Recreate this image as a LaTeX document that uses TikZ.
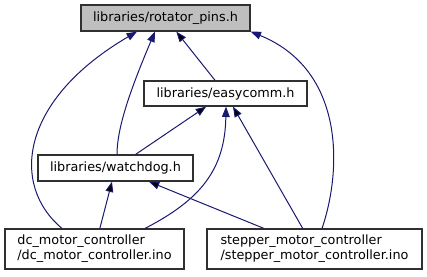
\documentclass[tikz,border=0pt]{standalone}
\usepackage{fontspec}
\setmainfont{DejaVu Sans}
\usepackage{tikz}
\usetikzlibrary{arrows.meta}
\definecolor{edgeblue}{RGB}{25,25,112}
\definecolor{boxline}{RGB}{48,48,48}
\definecolor{boxgray}{RGB}{191,191,191}
\tikzstyle{file}=[rectangle, draw=boxline, line width=0.9pt, inner sep=0pt, font=\fontsize{9.6}{11.25}\selectfont]
\tikzstyle{dep}=[-{Triangle[length=7.8pt,width=5.8pt]}, draw=edgeblue, line width=0.75pt]

\begin{document}
\begin{tikzpicture}[x=0.75pt, y=-0.75pt]
			\useasboundingbox (0,0) rectangle (427,276);

			\node[file, fill=boxgray, minimum width=126.75pt, minimum height=19.5pt] (pins) at (165.5,18) {libraries/rotator\_pins.h};
			\node[file, minimum width=122.25pt, minimum height=18.75pt] (easy) at (225.5,93.5) {libraries/easycomm.h};
			\node[file, minimum width=116.25pt, minimum height=19.5pt] (wdog) at (115.5,168) {libraries/watchdog.h};
			\node[file, align=left, minimum width=134.25pt, minimum height=30pt] (dc) at (94.5,249) {dc\_motor\_controller\\/dc\_motor\_controller.ino};
			\node[file, align=left, minimum width=161.25pt, minimum height=30pt] (stepper) at (314.5,249) {stepper\_motor\_controller\\/stepper\_motor\_controller.ino};

			\path[dep]
			(easy) edge (pins)
			(wdog) edge (easy)
			(stepper) edge (easy)
			(dc) edge (wdog)
			(stepper) edge (wdog)
			;

			% bent includes
			\draw[dep] ([shift={(1.5,0)}]wdog.north) .. controls (117,130) and (128,95) .. ([shift={(-10.5,0)}]pins.south);
			\draw[dep] ([shift={(-32.5,0)}]dc.north) .. controls (10,185) and (20,100) .. ([shift={(-28.5,0)}]pins.south);
			\draw[dep] ([shift={(7.5,0)}]stepper.north) .. controls (342,170) and (345,70) .. (pins.south east);
			\draw[dep] ([shift={(50.5,0)}]dc.north) .. controls (200,200) and (225,170) .. ([shift={(0.5,0)}]easy.south);
		\end{tikzpicture}
\end{document}
